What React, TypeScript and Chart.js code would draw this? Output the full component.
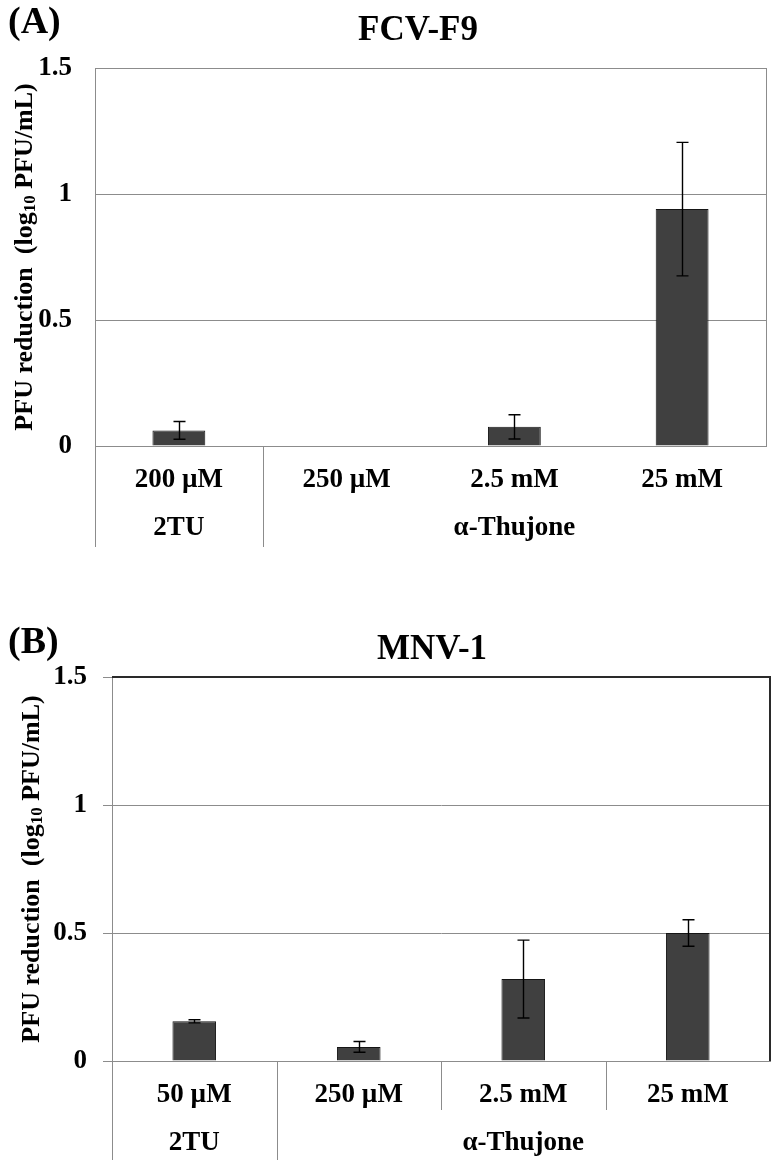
import React, { useEffect, useRef } from 'react';
import { Chart, registerables } from 'chart.js';

Chart.register(...registerables);

// ---------------- data ----------------
const concentrationsA = ['200 µM', '250 µM', '2.5 mM', '25 mM'];
const compoundsA = ['2TU', 'α-Thujone', 'α-Thujone', 'α-Thujone'];
const reductionA = [0.062, 0, 0.076, 0.94];
const errorA = [0.035, 0, 0.048, 0.265];

const concentrationsB = ['50 µM', '250 µM', '2.5 mM', '25 mM'];
const compoundsB = ['2TU', 'α-Thujone', 'α-Thujone', 'α-Thujone'];
const reductionB = [0.155, 0.055, 0.32, 0.5];
const errorB = [0.006, 0.021, 0.152, 0.052];

const yTickValues = [0, 0.5, 1, 1.5];
const yAxisTitleParts = ['PFU reduction  (log', '10', ' PFU/mL)'];
const titleA = 'FCV-F9';
const titleB = 'MNV-1';
const tagA = '(A)';
const tagB = '(B)';

// ---------------- styles ----------------
const SERIF = "'Liberation Serif', 'Times New Roman', serif";
const GRID = '#8c8c8c';

type PanelStyle = {
  height: number; top: number; bottom: number; left: number; right: number;
  tagX: number; tagY: number; titleX: number; titleY: number;
  yTitleX: number; tickLen: number; tickPad: number; xTickPad: number;
  barPct: number; innerSeps: boolean; innerSepBottom: number; groupSepBottom: number;
  groupLabelY: number; frame: 'right' | 'topright';
};

const styleA: PanelStyle = {
  height: 560, top: 68, bottom: 446, left: 95, right: 766,
  tagX: 8, tagY: 23, titleX: 418, titleY: 31,
  yTitleX: 25, tickLen: 0, tickPad: 23, xTickPad: 18,
  barPct: 0.315, innerSeps: false, innerSepBottom: 0, groupSepBottom: 547,
  groupLabelY: 528, frame: 'right',
};

const styleB: PanelStyle = {
  height: 607, top: 117, bottom: 501, left: 112, right: 770,
  tagX: 8, tagY: 83, titleX: 432, titleY: 90,
  yTitleX: 32, tickLen: 9, tickPad: 16, xTickPad: 18,
  barPct: 0.265, innerSeps: true, innerSepBottom: 550, groupSepBottom: 600,
  groupLabelY: 583, frame: 'topright',
};

type PanelProps = {
  st: PanelStyle; labels: string[]; groups: string[]; values: number[]; errors: number[];
  title: string; tag: string;
};

function Panel({ st, labels, groups, values, errors, title, tag }: PanelProps) {
  const ref = useRef<HTMLCanvasElement>(null);

  useEffect(() => {
    const canvas = ref.current;
    if (!canvas) return;

    const decor = {
      id: 'decor',
      afterDatasetsDraw(chart: any) {
        const ctx = chart.ctx;
        const ys = chart.scales.y;
        const meta = chart.getDatasetMeta(0);
        ctx.save();
        ctx.strokeStyle = '#000';
        ctx.lineWidth = 1.4;
        values.forEach((v, i) => {
          const e = errors[i];
          if (!e) return;
          const x = Math.round(meta.data[i].x) + 0.5;
          const y1 = ys.getPixelForValue(v + e);
          const y2 = ys.getPixelForValue(v - e);
          ctx.beginPath();
          ctx.moveTo(x, y1); ctx.lineTo(x, y2);
          ctx.moveTo(x - 6, y1); ctx.lineTo(x + 6, y1);
          ctx.moveTo(x - 6, y2); ctx.lineTo(x + 6, y2);
          ctx.stroke();
        });
        ctx.restore();
      },
      afterDraw(chart: any) {
        const ctx = chart.ctx;
        const area = chart.chartArea;
        const xs = chart.scales.x;
        ctx.save();
        // frame
        if (st.frame === 'right') {
          ctx.strokeStyle = GRID; ctx.lineWidth = 1;
          ctx.beginPath();
          ctx.moveTo(Math.round(area.right) + 0.5, area.top);
          ctx.lineTo(Math.round(area.right) + 0.5, area.bottom);
          ctx.stroke();
        } else {
          ctx.strokeStyle = '#2a2a2a'; ctx.lineWidth = 2;
          ctx.beginPath();
          ctx.moveTo(area.left, Math.round(area.top));
          ctx.lineTo(Math.round(area.right), Math.round(area.top));
          ctx.lineTo(Math.round(area.right), area.bottom);
          ctx.stroke();
        }
        // separators
        ctx.strokeStyle = GRID; ctx.lineWidth = 1;
        ctx.beginPath();
        const lx = Math.round(area.left) + 0.5;
        ctx.moveTo(lx, area.bottom); ctx.lineTo(lx, st.groupSepBottom);
        for (let i = 0; i < labels.length - 1; i++) {
          const x = Math.round((xs.getPixelForValue(i) + xs.getPixelForValue(i + 1)) / 2) + 0.5;
          if (groups[i] !== groups[i + 1]) {
            ctx.moveTo(x, area.bottom); ctx.lineTo(x, st.groupSepBottom);
          } else if (st.innerSeps) {
            ctx.moveTo(x, area.bottom); ctx.lineTo(x, st.innerSepBottom);
          }
        }
        ctx.stroke();
        // group labels
        ctx.fillStyle = '#000';
        ctx.font = `bold 27px ${SERIF}`;
        ctx.textAlign = 'center';
        ctx.textBaseline = 'middle';
        let start = 0;
        for (let i = 1; i <= groups.length; i++) {
          if (i === groups.length || groups[i] !== groups[start]) {
            const cx = (xs.getPixelForValue(start) + xs.getPixelForValue(i - 1)) / 2;
            ctx.fillText(groups[start], cx, st.groupLabelY);
            start = i;
          }
        }
        // titles
        ctx.font = `bold 35px ${SERIF}`;
        ctx.fillText(title, st.titleX, st.titleY);
        ctx.textAlign = 'left';
        ctx.font = `bold 38px ${SERIF}`;
        ctx.fillText(tag, st.tagX, st.tagY);
        // y axis title with subscript
        const mainFont = `bold 26px ${SERIF}`;
        const subFont = `bold 17px ${SERIF}`;
        ctx.font = mainFont;
        const w1 = ctx.measureText(yAxisTitleParts[0]).width;
        const w3 = ctx.measureText(yAxisTitleParts[2]).width;
        ctx.font = subFont;
        const w2 = ctx.measureText(yAxisTitleParts[1]).width;
        const total = w1 + w2 + w3;
        ctx.translate(st.yTitleX, (area.top + area.bottom) / 2);
        ctx.rotate(-Math.PI / 2);
        ctx.textBaseline = 'middle';
        ctx.textAlign = 'left';
        let x0 = -total / 2;
        ctx.font = mainFont;
        ctx.fillText(yAxisTitleParts[0], x0, 0);
        x0 += w1;
        ctx.font = subFont;
        ctx.fillText(yAxisTitleParts[1], x0, 6);
        x0 += w2;
        ctx.font = mainFont;
        ctx.fillText(yAxisTitleParts[2], x0, 0);
        ctx.restore();
      },
    };

    const chart = new Chart(canvas, {
      type: 'bar',
      data: {
        labels,
        datasets: [{
          data: values,
          backgroundColor: '#404040',
          borderColor: '#151515',
          borderWidth: (c: any) => (c.raw > 0 ? 1 : 0),
          barPercentage: st.barPct,
          categoryPercentage: 1,
        }],
      },
      options: {
        responsive: false,
        animation: false,
        events: [],
        layout: { padding: { top: st.top, right: 776 - st.right, left: 0, bottom: 0 } },
        plugins: { legend: { display: false }, tooltip: { enabled: false }, title: { display: false } },
        scales: {
          x: {
            type: 'category',
            offset: true,
            grid: { display: false, drawTicks: false },
            border: { display: true, color: GRID, width: 1 },
            ticks: {
              color: '#000',
              font: { family: SERIF, size: 27, weight: 'bold' },
              padding: st.xTickPad,
              maxRotation: 0,
              autoSkip: false,
            },
            afterFit: (s: any) => { s.height = st.height - st.bottom; },
          },
          y: {
            type: 'linear',
            min: 0,
            max: 1.5,
            afterBuildTicks: (s: any) => { s.ticks = yTickValues.map((v) => ({ value: v })); },
            grid: {
              color: GRID,
              lineWidth: 1,
              drawTicks: st.tickLen > 0,
              tickLength: st.tickLen,
              tickColor: GRID,
            },
            border: { display: true, color: GRID, width: 1 },
            ticks: {
              color: '#000',
              font: { family: SERIF, size: 27, weight: 'bold' },
              padding: st.tickPad,
              callback: (v: any) => String(v),
            },
            afterFit: (s: any) => { s.width = st.left; },
          },
        },
      } as any,
      plugins: [decor],
    });
    return () => chart.destroy();
  }, []);

  return (
    <canvas
      ref={ref}
      width={776}
      height={st.height}
      style={{ display: 'block', width: 776, height: st.height }}
    />
  );
}

export default function App() {
  return (
    <div style={{ position: 'absolute', left: 0, top: 0, width: 776, background: '#fff' }}>
      <Panel st={styleA} labels={concentrationsA} groups={compoundsA} values={reductionA}
        errors={errorA} title={titleA} tag={tagA} />
      <Panel st={styleB} labels={concentrationsB} groups={compoundsB} values={reductionB}
        errors={errorB} title={titleB} tag={tagB} />
    </div>
  );
}
